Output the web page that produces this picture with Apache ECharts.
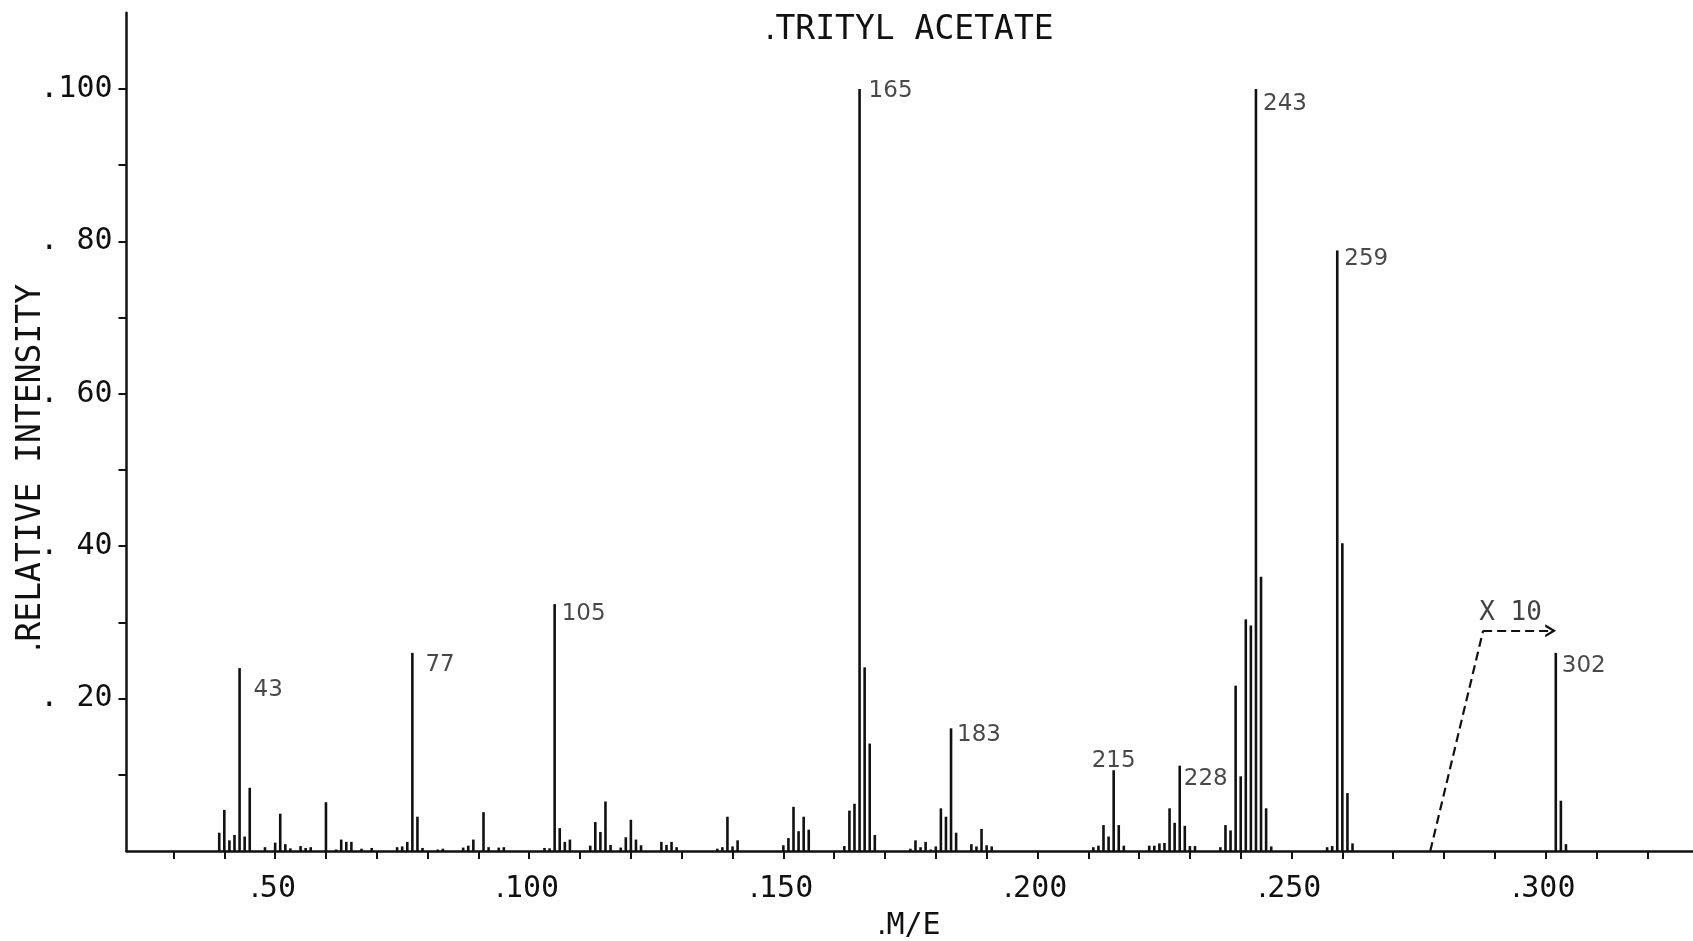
<!DOCTYPE html>
<html>
<head>
<meta charset="utf-8">
<script src="https://cdn.jsdelivr.net/npm/echarts@6/dist/echarts.min.js"></script>
<style>
html,body{margin:0;padding:0;background:#fff;}
#chart{width:1693px;height:941px;}
</style>
</head>
<body>
<div id="chart"></div>
<script>
// ---- data ----
const titleText = 'TRITYL ACETATE';
const xName = 'M/E';
const yName = 'RELATIVE INTENSITY';

const mz = [39,40,41,42,43,44,45,48,50,51,52,53,55,56,57,60,62,63,64,65,67,69,74,75,76,77,78,79,82,83,
  87,88,89,91,92,94,95,103,104,105,106,107,108,112,113,114,115,116,118,119,120,121,122,126,127,128,129,
  137,138,139,140,141,150,151,152,153,154,155,162,163,164,165,166,167,168,175,176,177,178,179,180,181,182,183,184,
  187,188,189,190,191,211,212,213,214,215,216,217,222,223,224,225,226,227,228,229,230,231,
  236,237,238,239,240,241,242,243,244,245,246,257,258,259,260,261,262,302,303,304];
const intensity = [2.4,5.4,1.4,2.1,24.0,1.9,8.3,0.5,1.1,4.9,0.9,0.35,0.65,0.4,0.5,6.4,0.2,1.5,1.2,1.2,0.3,0.4,0.5,0.6,1.2,26.0,4.5,0.4,0.2,0.3,
  0.45,0.7,1.5,5.1,0.5,0.45,0.5,0.4,0.35,32.4,3.0,1.2,1.5,0.7,3.8,2.5,6.5,0.8,0.45,1.8,4.1,1.5,0.75,1.2,0.8,1.2,0.5,
  0.3,0.5,4.5,0.6,1.4,0.75,1.7,5.8,2.6,4.5,2.8,0.65,5.3,6.2,100,24.1,14.1,2.1,0.3,1.4,0.5,1.2,0.2,0.6,5.6,4.5,16.1,2.4,
  0.9,0.6,2.9,0.75,0.6,0.5,0.7,3.4,1.9,10.6,3.4,0.7,0.7,0.7,1.0,1.05,5.6,3.7,11.2,3.3,0.65,0.65,
  0.5,3.4,2.7,21.7,9.8,30.4,29.6,100,36.0,5.6,0.6,0.5,0.65,78.8,40.4,7.6,1.0,26.0,6.6,0.9];

const labelledPeaks = [43,77,105,165,183,215,228,243,259,302];

const xTickValues = [50,100,150,200,250,300];
const xTickLabels = ['50','100','150','200','250','300'];
const xMinorTicks = [30,40,50,60,70,80,90,100,110,120,130,140,150,160,170,180,190,200,210,220,230,240,250,260,270,280,290,300,310,320];
const yTickValues = [20,40,60,80,100];
const yTickLabels = ['. 20','. 40','. 60','. 80','.100'];
const yMinorTicks = [10,20,30,40,50,60,70,80,90,100];

// "X 10" annotation path (data units)
const x10Path = [[277.3,0],[287.7,28.9],[301,28.9]];
const x10Text = 'X 10';

// ---- styling (kept out of the data) ----
const INK = '#111';
const MONO = '"DejaVu Sans Mono", "Liberation Mono", monospace';
const SANS = '"DejaVu Sans", sans-serif';
const dotRich = (size)=>({d:{fontFamily:SANS, fontSize:size, color:INK}, n:{fontFamily:MONO, fontSize:size, color:INK}});
const labelStyle = {
  43:{offset:[14,22]}, 77:{offset:[13,12]}, 105:{offset:[7,10]}, 165:{offset:[9,2]},
  183:{offset:[6,7]}, 215:{position:'top', distance:-2, offset:[0,0]}, 228:{offset:[4,13]},
  243:{offset:[7,15]}, 259:{offset:[7,8]}, 302:{offset:[6,13]}
};

const chart = echarts.init(document.getElementById('chart'), null, {renderer:'canvas'});

const barData = mz.map((m,i)=>[m, intensity[i]]);
const labelData = labelledPeaks.map(m=>{
  const s = labelStyle[m] || {};
  return {
    value:[m, intensity[mz.indexOf(m)]],
    label:{
      show:true,
      position: s.position || 'right',
      distance: s.distance !== undefined ? s.distance : 0,
      offset: s.offset || [6,8],
      formatter: String(m)
    }
  };
});

const option = {
  animation:false,
  backgroundColor:'#fff',
  title:{
    text:'{d|.}{n|' + titleText + '}',
    left:760, top:9,
    textStyle:{fontFamily:MONO, fontSize:33, fontWeight:'normal', color:INK, rich:dotRich(33)}
  },
  grid:{left:126.5, right:0, top:12.8, bottom:90, containLabel:false, outerBoundsMode:'none'},
  xAxis:{
    type:'value', min:20.75, max:329,
    name:'{d|.}{n|' + xName + '}', nameLocation:'middle', nameGap:60,
    nameTextStyle:{fontFamily:MONO, fontSize:30, color:INK, padding:[0,2,0,0], rich:dotRich(30)},
    axisLine:{show:true, onZero:false, lineStyle:{color:INK, width:2.5}},
    axisTick:{show:true, length:8, inside:false, customValues:xMinorTicks, lineStyle:{color:INK, width:2}},
    axisLabel:{
      show:true, customValues:xTickValues, margin:23,
      fontFamily:MONO, fontSize:30, color:INK, padding:[0,4,0,0], rich:dotRich(30),
      formatter:(v)=>{const i=xTickValues.indexOf(Math.round(v)); return i>=0?('{d|.}{n|'+xTickLabels[i]+'}'):'';}
    },
    splitLine:{show:false}
  },
  yAxis:{
    type:'value', min:0, max:110,
    axisLine:{show:true, onZero:false, lineStyle:{color:INK, width:2.5}},
    axisTick:{show:true, length:8, inside:false, customValues:yMinorTicks, lineStyle:{color:INK, width:2}},
    axisLabel:{
      show:true, customValues:yTickValues, margin:14,
      fontFamily:MONO, fontSize:30, color:INK, padding:[9,0,0,0],
      formatter:(v)=>{const i=yTickValues.indexOf(Math.round(v)); return i>=0?yTickLabels[i]:'';}
    },
    splitLine:{show:false}
  },
  graphic:[{
    type:'text', x:31, y:468, rotation:Math.PI/2,
    style:{text:'{d|.}{n|' + yName + '}', font:'normal 33px '+MONO, fill:INK, align:'center', verticalAlign:'middle',
      rich:{d:{fontFamily:SANS, fontSize:33, fill:INK}, n:{fontFamily:MONO, fontSize:33, fill:INK}}}
  }],
  series:[
    {
      type:'bar', data:barData, barWidth:2.6,
      itemStyle:{color:INK}, silent:true
    },
    {
      type:'scatter', data:labelData, symbolSize:0.1, silent:true,
      itemStyle:{color:'rgba(0,0,0,0)'},
      label:{show:true, fontFamily:SANS, fontSize:23, color:'#1a1a1a'}
    },
    {
      type:'scatter', silent:true, symbolSize:0.1,
      itemStyle:{color:'rgba(0,0,0,0)'},
      data:[{value:x10Path[1], label:{show:true, position:'right', distance:0, offset:[-4,-18],
        formatter:x10Text, fontFamily:MONO, fontSize:26, color:INK}}]
    },
    {
      type:'line', data:[], silent:true,
      markLine:{
        silent:true, animation:false,
        lineStyle:{color:INK, width:2.2, type:[9,5]},
        label:{show:false},
        data:[
          [{coord:x10Path[0], symbol:'none'},{coord:x10Path[1], symbol:'none'}],
          [{coord:x10Path[1], symbol:'none'},
           {coord:x10Path[2], symbol:'path://M0,20 L10,0 L20,20 L16,20 L10,8 L4,20 Z', symbolSize:[13,11]}]
        ]
      }
    }
  ]
};
chart.setOption(option);
</script>
</body>
</html>
